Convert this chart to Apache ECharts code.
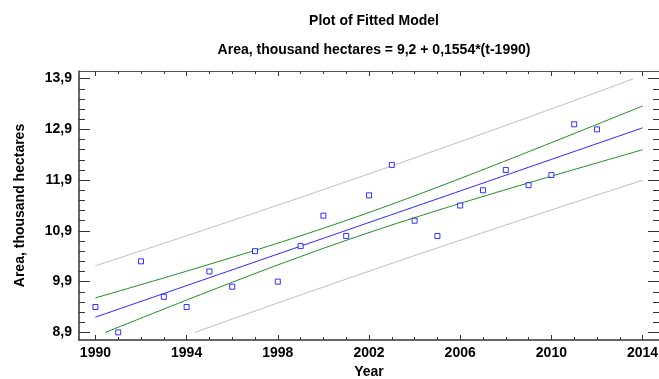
<!DOCTYPE html>
<html>
<head>
<meta charset="utf-8">
<script src="https://cdn.jsdelivr.net/npm/echarts@6/dist/echarts.min.js"></script>
<style>
  html, body { margin: 0; padding: 0; background: #fff; }
  #chart { width: 659px; height: 379px; }
</style>
</head>
<body>
<div id="chart"></div>
<script>
// Observed area by year
const years = [1990, 1991, 1992, 1993, 1994, 1995, 1996, 1997, 1998, 1999, 2000, 2001,
               2002, 2003, 2004, 2005, 2006, 2007, 2008, 2009, 2010, 2011, 2012];
const area = [9.4, 8.9, 10.3, 9.6, 9.4, 10.1, 9.8, 10.5, 9.9, 10.6, 11.2, 10.8,
              11.6, 12.2, 11.1, 10.8, 11.4, 11.7, 12.1, 11.8, 12.0, 13.0, 12.9];

// Fitted model: Area = 9,2 + 0,1554*(t-1990)
const modelIntercept = 9.2;
const modelSlope = 0.1554;
const modelBaseYear = 1990;
const modelYearRange = [1990, 2014];
const tCrit95 = 2.0796; // Student t, 0.975 quantile, 21 degrees of freedom

// Axis ticks
const xTickYears = [1990, 1994, 1998, 2002, 2006, 2010, 2014];
const yTickValues = [8.9, 9.9, 10.9, 11.9, 12.9, 13.9];

// ---- derived values ----
const yLo = yTickValues[0], yHi = yTickValues[yTickValues.length - 1];
const xLo = xTickYears[0], xHi = xTickYears[xTickYears.length - 1];
const xPad = (xHi - xLo) * 0.03, yPad = (yHi - yLo) * 0.03;
const xMin = xLo - xPad, xMax = xHi + xPad;
const yMin = yLo - yPad, yMax = yHi + yPad;

const xMinor = [];
for (let y = xLo; y <= xHi; y++) if (!xTickYears.includes(y)) xMinor.push(y);
const yMinor = [];
for (let i = 0; Math.round((yLo + i * 0.2) * 10) / 10 <= yHi; i++) {
  const v = Math.round((yLo + i * 0.2) * 10) / 10;
  if (!yTickValues.some(t => Math.abs(t - v) < 1e-9)) yMinor.push(v);
}

// Regression statistics from the observations
const n = years.length;
const xs = years.map(y => y - modelBaseYear);
const xBar = xs.reduce((a, b) => a + b, 0) / n;
const yBar = area.reduce((a, b) => a + b, 0) / n;
const sxx = xs.reduce((a, x) => a + (x - xBar) * (x - xBar), 0);
const sxy = xs.reduce((a, x, i) => a + (x - xBar) * (area[i] - yBar), 0);
const lsSlope = sxy / sxx;
const lsIntercept = yBar - lsSlope * xBar;
const sse = xs.reduce((a, x, i) => {
  const r = area[i] - (lsIntercept + lsSlope * x);
  return a + r * r;
}, 0);
const s = Math.sqrt(sse / (n - 2));

function fitted(year) { return modelIntercept + modelSlope * (year - modelBaseYear); }
function halfWidth(year, prediction) {
  const x = year - modelBaseYear;
  return tCrit95 * s * Math.sqrt((prediction ? 1 : 0) + 1 / n + (x - xBar) * (x - xBar) / sxx);
}

// Evaluate a curve over the model range, then trim it to the plotted value range
function curve(fn) {
  const pts = [];
  const steps = (modelYearRange[1] - modelYearRange[0]) * 10;
  for (let i = 0; i <= steps; i++) {
    const yr = modelYearRange[0] + i / 10;
    pts.push([yr, fn(yr)]);
  }
  return clipRange(pts, yLo, yHi);
}
function clipRange(pts, lo, hi) {
  const out = [];
  const inside = p => p[1] >= lo && p[1] <= hi;
  for (let i = 0; i < pts.length; i++) {
    const p = pts[i];
    if (i > 0) {
      const q = pts[i - 1];
      const cross = [];
      [lo, hi].forEach(b => {
        if ((q[1] - b) * (p[1] - b) < 0) {
          const t = (b - q[1]) / (p[1] - q[1]);
          cross.push([t, [q[0] + t * (p[0] - q[0]), b]]);
        }
      });
      cross.sort((a, b) => a[0] - b[0]).forEach(c => out.push(c[1]));
    }
    if (inside(p)) out.push(p);
    else if (out.length && out[out.length - 1] !== null) out.push(null);
  }
  return out;
}

const fitLine = curve(fitted);
const confUpper = curve(y => fitted(y) + halfWidth(y, false));
const confLower = curve(y => fitted(y) - halfWidth(y, false));
const predUpper = curve(y => fitted(y) + halfWidth(y, true));
const predLower = curve(y => fitted(y) - halfWidth(y, true));

// ---- chart ----
const font = 'Liberation Sans, Arial, Helvetica, sans-serif';
const boldText = { fontFamily: font, fontWeight: 'bold', fontSize: 14, color: '#000' };
const axisColor = '#333';

function xAxisDef(position, ticks, len, lineOpts, labelOpts, nameOpts) {
  return Object.assign({
    type: 'value', position: position, min: xMin, max: xMax,
    axisLine: Object.assign({ show: false, onZero: false }, lineOpts || {}),
    axisTick: { show: true, inside: true, length: len, customValues: ticks,
                lineStyle: { color: axisColor, width: 1 } },
    axisLabel: labelOpts || { show: false },
    splitLine: { show: false }
  }, nameOpts || {});
}
function yAxisDef(position, ticks, len, lineOpts, labelOpts, nameOpts) {
  return Object.assign({
    type: 'value', position: position, min: yMin, max: yMax,
    axisLine: Object.assign({ show: false, onZero: false }, lineOpts || {}),
    axisTick: { show: true, inside: true, length: len, customValues: ticks,
                lineStyle: { color: axisColor, width: 1 } },
    axisLabel: labelOpts || { show: false },
    splitLine: { show: false }
  }, nameOpts || {});
}

const lineSeries = (data, color) => ({
  type: 'line', data: data, xAxisIndex: 0, yAxisIndex: 0,
  showSymbol: false, symbol: 'none', silent: true,
  lineStyle: { color: color, width: 1 }, z: 2
});

const chart = echarts.init(document.getElementById('chart'), null, { renderer: 'canvas' });
chart.setOption({
  animation: false,
  backgroundColor: '#fff',
  title: [
    { text: 'Plot of Fitted Model', left: 369, top: 9, textAlign: 'center',
      textStyle: boldText },
    { text: 'Area, thousand hectares = 9,2 + 0,1554*(t-1990)', left: 369, top: 38,
      textAlign: 'center', textStyle: boldText }
  ],
  grid: { left: 79, right: 0, top: 71, bottom: 39, containLabel: false, outerBoundsMode: 'none' },
  xAxis: [
    xAxisDef('bottom', xTickYears, 5,
      { show: true, lineStyle: { color: axisColor, width: 1.5 } },
      Object.assign({ show: true, customValues: xTickYears, margin: 6,
                      formatter: v => String(v) }, boldText),
      { name: 'Year', nameLocation: 'middle', nameGap: 23, nameTextStyle: boldText }),
    xAxisDef('bottom', xMinor, 3),
    xAxisDef('top', xTickYears, 5, { show: true, lineStyle: { color: '#555', width: 1 } }),
    xAxisDef('top', xMinor, 3)
  ],
  yAxis: [
    yAxisDef('left', yTickValues, 11,
      { show: true, lineStyle: { color: axisColor, width: 1.5 } },
      Object.assign({ show: true, customValues: yTickValues, margin: 7,
                      formatter: v => v.toFixed(1).replace('.', ',') }, boldText),
      { name: 'Area, thousand hectares', nameLocation: 'middle', nameGap: 52,
        nameTextStyle: boldText }),
    yAxisDef('left', yMinor, 6),
    yAxisDef('right', yTickValues, 11, { show: true, lineStyle: { color: '#555', width: 1 } }),
    yAxisDef('right', yMinor, 6)
  ],
  series: [
    lineSeries(predUpper, '#bcbcbc'),
    lineSeries(predLower, '#bcbcbc'),
    lineSeries(confUpper, '#1a8a1a'),
    lineSeries(confLower, '#1a8a1a'),
    lineSeries(fitLine, '#1f1fff'),
    {
      type: 'scatter', xAxisIndex: 0, yAxisIndex: 0, z: 3,
      data: years.map((y, i) => [y, area[i]]),
      symbol: 'rect', symbolSize: 5,
      itemStyle: { color: '#fff', borderColor: '#0000ff', borderWidth: 1 }
    }
  ]
});
</script>
</body>
</html>
